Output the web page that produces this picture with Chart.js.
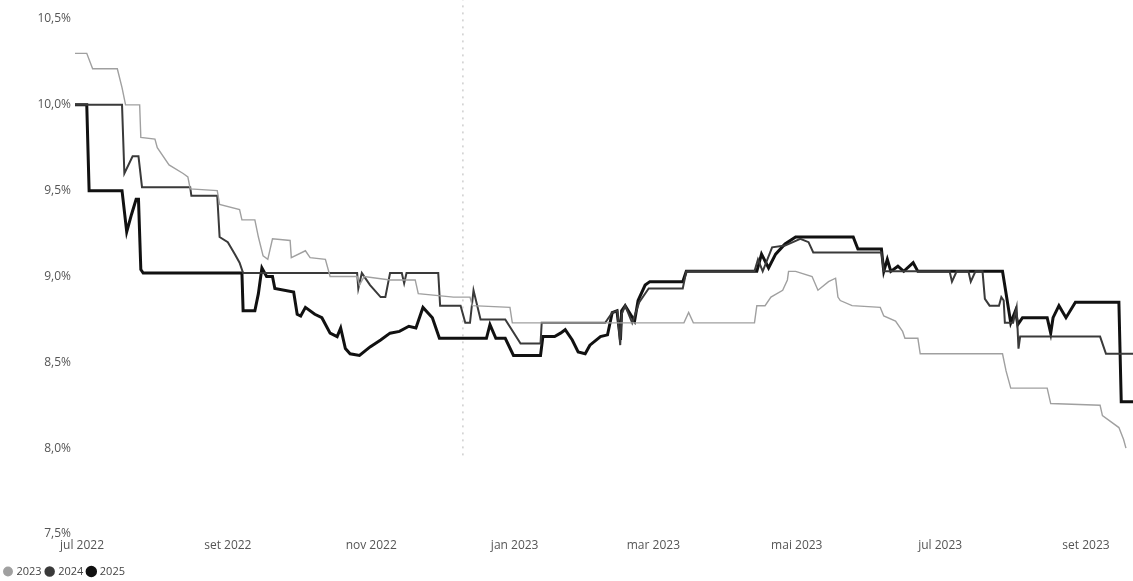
<!DOCTYPE html>
<html>
<head>
<meta charset="utf-8">
<script src="https://cdn.jsdelivr.net/npm/chart.js@4/dist/chart.umd.min.js"></script>
<style>
  body { margin: 0; background: #fff; }
  #wrap { width: 1133px; height: 581px; }
</style>
</head>
<body>
<div id="wrap"><canvas id="rateChart" width="1133" height="581"></canvas></div>
<script>
// x values are days counted from 1 jul 2022
const tickDays = [0, 62, 123, 184, 243, 304, 365, 427];
const tickLabels = ['jul 2022', 'set 2022', 'nov 2022', 'jan 2023', 'mar 2023', 'mai 2023', 'jul 2023', 'set 2023'];

const seriesNames = ['2023', '2024', '2025'];

const days2023 = [-3, 2, 4.5, 15, 17, 18.5, 24.5, 25, 31, 32, 37, 43, 45, 46, 57.5, 58.5, 67, 68, 73.5, 75, 77, 79, 81, 88.5, 89, 95, 97, 103.5, 105.5, 117, 118, 120, 131, 141.7, 143, 158, 165, 166, 182, 183, 256, 258, 260, 286, 287, 290.5, 293, 298, 300, 300.5, 303.5, 310.5, 313, 317.5, 320.5, 321.5, 322.5, 327.5, 339.5, 341, 346, 349, 350, 355.5, 356.5, 391.5, 393, 395, 410.5, 412, 433, 434, 441, 443, 444];
const rate2023 = [10.3, 10.3, 10.21, 10.21, 10.1, 10.0, 10.0, 9.81, 9.8, 9.75, 9.65, 9.6, 9.58, 9.51, 9.5, 9.42, 9.39, 9.33, 9.33, 9.23, 9.12, 9.1, 9.22, 9.21, 9.11, 9.15, 9.11, 9.1, 9.0, 9.0, 8.95, 9.0, 8.98, 8.98, 8.9, 8.88, 8.88, 8.83, 8.82, 8.73, 8.73, 8.79, 8.73, 8.73, 8.83, 8.83, 8.88, 8.92, 8.98, 9.03, 9.03, 9.0, 8.92, 8.97, 8.99, 8.88, 8.86, 8.83, 8.82, 8.77, 8.74, 8.68, 8.64, 8.64, 8.55, 8.55, 8.45, 8.35, 8.35, 8.26, 8.25, 8.19, 8.12, 8.05, 8.0];

const days2024 = [-3, 17, 18, 21.5, 24, 25.5, 46, 46.5, 57.5, 58.5, 62, 65, 67, 68.5, 117, 117.5, 119, 122.5, 127, 129, 131, 136, 137, 138, 151.5, 152.3, 161, 163, 165, 166.5, 169.5, 180, 186.5, 195, 195.5, 222.5, 225.5, 227.7, 228.9, 229.5, 231, 234, 237, 241, 255.5, 257, 286, 287.5, 289.5, 293.5, 299, 305.5, 309, 311, 340, 341, 369, 370, 372, 377, 378, 380, 383, 384, 386, 390, 391, 392, 392.5, 396, 397.5, 398.3, 399, 433, 435.5, 447];
const rate2024 = [10.0, 10.0, 9.6, 9.7, 9.7, 9.52, 9.52, 9.47, 9.47, 9.23, 9.2, 9.13, 9.08, 9.02, 9.02, 8.93, 9.02, 8.95, 8.88, 8.88, 9.02, 9.02, 8.96, 9.02, 9.02, 8.83, 8.83, 8.73, 8.73, 8.92, 8.75, 8.75, 8.61, 8.61, 8.73, 8.73, 8.79, 8.8, 8.6, 8.78, 8.83, 8.73, 8.85, 8.93, 8.93, 9.03, 9.03, 9.1, 9.03, 9.17, 9.18, 9.22, 9.2, 9.14, 9.14, 9.03, 9.03, 8.97, 9.03, 9.03, 8.97, 9.03, 9.03, 8.87, 8.83, 8.83, 8.88, 8.86, 8.73, 8.73, 8.82, 8.58, 8.65, 8.65, 8.55, 8.55];

const days2025 = [-3, 2, 3, 17, 19, 21, 23, 24, 25, 26, 68, 68.5, 73.5, 75, 76.5, 78.5, 81, 82, 90, 91.5, 93, 95, 99, 102, 105.5, 108.5, 110, 112, 114, 118, 122.5, 127, 131, 135, 139, 142, 145, 149, 152, 172, 173.5, 176, 180, 183.5, 195, 196, 201, 203.5, 205.5, 208.5, 211, 214, 216, 220.5, 223.5, 225.5, 227.5, 229, 229.5, 231, 235, 236.5, 239.5, 241.5, 255.5, 257, 287, 289, 292, 295, 299, 303.5, 328, 330, 340, 341, 342.5, 344, 347, 349.5, 353.5, 355.5, 391.5, 395, 397, 398, 400, 410.5, 412, 413, 415.5, 418.5, 422.5, 441, 442, 447];
const rate2025 = [10.0, 10.0, 9.5, 9.5, 9.26, 9.36, 9.45, 9.45, 9.04, 9.02, 9.02, 8.8, 8.8, 8.9, 9.05, 9.0, 9.0, 8.93, 8.91, 8.78, 8.77, 8.82, 8.78, 8.76, 8.67, 8.65, 8.7, 8.58, 8.55, 8.54, 8.59, 8.63, 8.67, 8.68, 8.71, 8.7, 8.82, 8.76, 8.64, 8.64, 8.72, 8.64, 8.64, 8.54, 8.54, 8.65, 8.65, 8.67, 8.69, 8.63, 8.56, 8.55, 8.6, 8.65, 8.66, 8.79, 8.8, 8.63, 8.8, 8.83, 8.74, 8.86, 8.95, 8.97, 8.97, 9.03, 9.03, 9.13, 9.05, 9.13, 9.19, 9.23, 9.23, 9.16, 9.16, 9.03, 9.1, 9.03, 9.06, 9.03, 9.08, 9.03, 9.03, 8.73, 8.8, 8.72, 8.76, 8.76, 8.67, 8.76, 8.83, 8.76, 8.85, 8.85, 8.27, 8.27];

// faint dotted vertical marker seen in the picture
const markerDays = [162, 162];
const markerValues = [10.62, 7.95];

const toPoints = (xs, ys) => xs.map((x, i) => ({ x: x, y: ys[i] }));

// keep the legend strip short so it sits at the very bottom
const legendHeight = {
  id: 'legendHeight',
  beforeLayout(chart) {
    const legend = chart.legend;
    if (legend && !legend._shortFit) {
      const fit = legend.fit;
      legend.fit = function () {
        fit.call(this);
        this.height = 20;
      };
      legend._shortFit = true;
    }
  }
};

const ctx = document.getElementById('rateChart').getContext('2d');
const chart = new Chart(ctx, {
  type: 'line',
  data: {
    datasets: [
      {
        label: seriesNames[0],
        data: toPoints(days2023, rate2023),
        borderColor: '#a0a0a0',
        backgroundColor: '#a0a0a0',
        borderWidth: 1.4
      },
      {
        label: seriesNames[1],
        data: toPoints(days2024, rate2024),
        borderColor: '#3a3a3a',
        backgroundColor: '#3a3a3a',
        borderWidth: 2
      },
      {
        label: seriesNames[2],
        data: toPoints(days2025, rate2025),
        borderColor: '#111',
        backgroundColor: '#111',
        borderWidth: 3
      },
      {
        label: 'marker',
        data: toPoints(markerDays, markerValues),
        borderColor: '#b5b5b5',
        borderWidth: 1,
        borderDash: [2, 5],
        clip: false
      }
    ]
  },
  plugins: [legendHeight],
  options: {
    responsive: false,
    animation: false,
    elements: {
      point: { radius: 0, hoverRadius: 0 },
      line: { tension: 0 }
    },
    layout: { padding: { top: 19, left: 0, right: 0, bottom: 0 } },
    scales: {
      x: {
        type: 'linear',
        min: -3,
        max: 447,
        grid: { display: false, drawTicks: false },
        border: { display: false },
        afterBuildTicks: (scale) => {
          scale.ticks = tickDays.map(v => ({ value: v }));
        },
        afterFit: (scale) => { scale.height = 27; },
        ticks: {
          autoSkip: false,
          maxRotation: 0,
          padding: 4,
          color: '#555',
          font: { family: 'Open Sans', size: 12 },
          callback: (value) => tickLabels[tickDays.indexOf(value)]
        }
      },
      y: {
        min: 7.5,
        max: 10.5,
        grid: { display: false, drawTicks: false },
        border: { display: false },
        afterFit: (scale) => { scale.width = 75; },
        ticks: {
          stepSize: 0.5,
          padding: 4,
          color: '#555',
          font: { family: 'Open Sans', size: 12 },
          callback: (value) => value.toFixed(1).replace('.', ',') + '%'
        }
      }
    },
    plugins: {
      tooltip: { enabled: false },
      legend: {
        position: 'bottom',
        align: 'start',
        labels: {
          usePointStyle: true,
          pointStyle: 'circle',
          boxWidth: 6,
          boxHeight: 6,
          padding: 5,
          color: '#444',
          font: { family: 'Open Sans', size: 11 },
          filter: (item) => item.text !== 'marker'
        }
      }
    }
  }
});
</script>
</body>
</html>
